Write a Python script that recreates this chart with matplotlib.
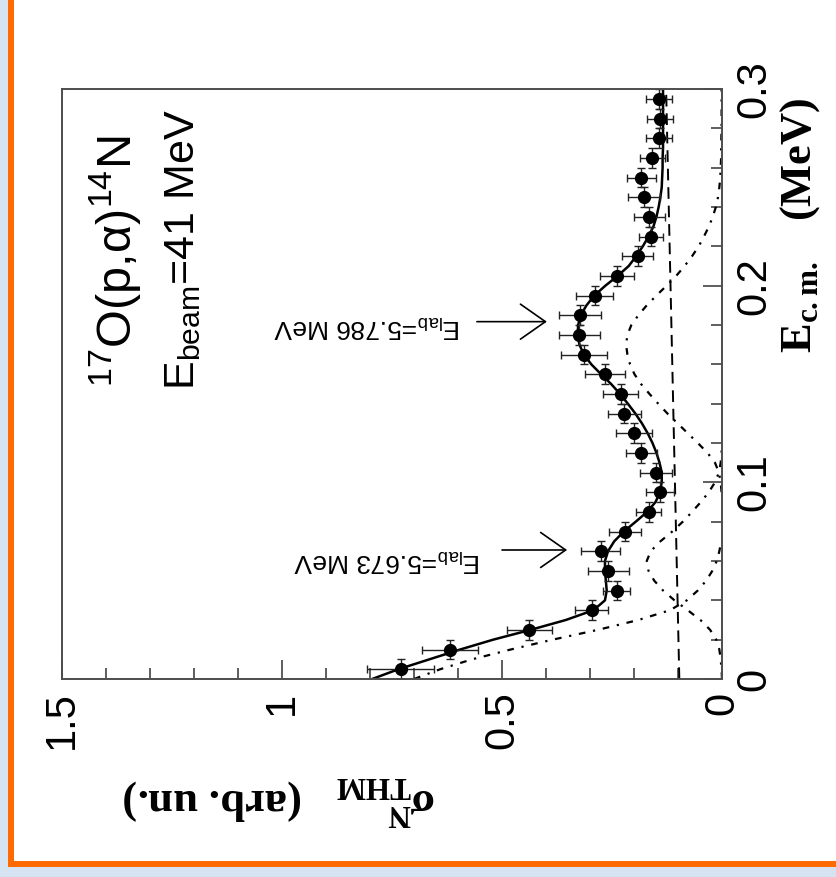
import matplotlib
matplotlib.use('Agg')
import matplotlib.pyplot as plt
from matplotlib.patches import Rectangle

plt.rcParams['font.family'] = ['Liberation Sans', 'DejaVu Sans']

# measured THM cross section, bins in E_cm (MeV)
e_cm = [0.005, 0.015, 0.025, 0.035, 0.045, 0.055, 0.065, 0.075, 0.085, 0.095,
        0.105, 0.115, 0.125, 0.135, 0.145, 0.155, 0.165, 0.175, 0.185, 0.195,
        0.205, 0.215, 0.225, 0.235, 0.245, 0.255, 0.265, 0.275, 0.285, 0.295]
e_err = [0.005] * 30
sigma = [0.730, 0.618, 0.438, 0.296, 0.239, 0.258, 0.276, 0.220, 0.167, 0.141,
         0.150, 0.183, 0.200, 0.222, 0.230, 0.266, 0.313, 0.324, 0.323, 0.289,
         0.239, 0.192, 0.161, 0.165, 0.177, 0.183, 0.158, 0.143, 0.141, 0.143]
sigma_err = [0.076, 0.064, 0.051, 0.038, 0.031, 0.047, 0.044, 0.036, 0.029, 0.031,
             0.037, 0.036, 0.042, 0.038, 0.040, 0.045, 0.052, 0.047, 0.047, 0.042,
             0.038, 0.035, 0.028, 0.035, 0.036, 0.032, 0.028, 0.029, 0.030, 0.029]

# total fit
fit_e = [0.000, 0.005, 0.010, 0.015, 0.020, 0.025, 0.030, 0.035, 0.040, 0.045,
         0.050, 0.055, 0.060, 0.065, 0.070, 0.075, 0.080, 0.085, 0.090, 0.095,
         0.100, 0.105, 0.110, 0.115, 0.120, 0.125, 0.130, 0.135, 0.140, 0.145,
         0.150, 0.155, 0.160, 0.165, 0.170, 0.175, 0.180, 0.185, 0.190, 0.195,
         0.200, 0.205, 0.210, 0.215, 0.220, 0.225, 0.230, 0.235, 0.240, 0.245,
         0.250, 0.255, 0.260, 0.265, 0.270, 0.275, 0.280, 0.285, 0.290, 0.295,
         0.300]
fit_sigma = [0.795, 0.735, 0.665, 0.595, 0.520, 0.435, 0.355, 0.292, 0.266, 0.262,
             0.264, 0.266, 0.266, 0.259, 0.245, 0.223, 0.196, 0.170, 0.151, 0.141,
             0.137, 0.137, 0.142, 0.149, 0.158, 0.169, 0.182, 0.197, 0.214, 0.232,
             0.252, 0.275, 0.297, 0.314, 0.324, 0.328, 0.327, 0.321, 0.308, 0.290,
             0.265, 0.237, 0.212, 0.195, 0.180, 0.167, 0.156, 0.149, 0.144, 0.140,
             0.137, 0.136, 0.135, 0.135, 0.134, 0.134, 0.134, 0.134, 0.134, 0.134,
             0.134]

# background
bg_e = [0.0, 0.3]
bg_sigma = [0.097, 0.127]

# single resonance contributions
peak1_e = [0.000, 0.005, 0.010, 0.015, 0.020, 0.025, 0.030, 0.035, 0.040, 0.045,
           0.050, 0.055, 0.060, 0.065, 0.070]
peak1_sigma = [0.700, 0.640, 0.568, 0.480, 0.385, 0.282, 0.190, 0.118, 0.080, 0.055,
               0.036, 0.022, 0.012, 0.006, 0.002]

peak2_e = [0.000, 0.005, 0.010, 0.015, 0.020, 0.025, 0.030, 0.035, 0.040, 0.045,
           0.050, 0.055, 0.060, 0.065, 0.070, 0.075, 0.080, 0.085, 0.090, 0.095,
           0.100, 0.105, 0.110, 0.115, 0.120]
peak2_sigma = [0.000, 0.001, 0.003, 0.006, 0.013, 0.027, 0.049, 0.078, 0.108, 0.134,
               0.154, 0.167, 0.171, 0.162, 0.140, 0.113, 0.089, 0.068, 0.048, 0.030,
               0.016, 0.007, 0.003, 0.001, 0.000]

peak3_e = [0.095, 0.100, 0.105, 0.110, 0.115, 0.120, 0.125, 0.130, 0.135, 0.140,
           0.145, 0.150, 0.155, 0.160, 0.165, 0.170, 0.175, 0.180, 0.185, 0.190,
           0.195, 0.200, 0.205, 0.210, 0.215, 0.220, 0.225, 0.230, 0.235, 0.240,
           0.245, 0.250, 0.255, 0.260, 0.265, 0.270, 0.280, 0.290, 0.300]
peak3_sigma = [0.001, 0.003, 0.007, 0.016, 0.033, 0.055, 0.078, 0.101, 0.124, 0.145,
               0.165, 0.184, 0.199, 0.209, 0.215, 0.218, 0.215, 0.206, 0.190, 0.171,
               0.149, 0.126, 0.104, 0.085, 0.068, 0.053, 0.041, 0.030, 0.021, 0.014,
               0.009, 0.006, 0.004, 0.003, 0.002, 0.002, 0.001, 0.001, 0.001]

sigma_ticks = [0, 0.5, 1, 1.5]
sigma_tick_labels = ['0', '0.5', '1', '1.5']
e_ticks = [0, 0.1, 0.2, 0.3]
e_tick_labels = ['0', '0.1', '0.2', '0.3']

W, H = 836, 877
fig = plt.figure(figsize=(W / 100, H / 100), dpi=100)
fig.patch.set_facecolor('#d5e3f2')
fig.add_artist(Rectangle((10.5 / W, 13 / H), 1.5, 1.5, transform=fig.transFigure,
                         facecolor='white', edgecolor='#ff6a00', linewidth=4.3, zorder=0))

# the plot is drawn turned: sigma runs right-to-left along the bottom, E_cm upward
ax = fig.add_axes([62 / W, 1 - 679 / H, 660 / W, 590 / H])
ax.set_facecolor('white')
ax.set_xlim(1.5, 0)
ax.set_ylim(0, 0.3)
for sp in ax.spines.values():
    sp.set_color('#4d4d4d')
    sp.set_linewidth(1.4)

ax.set_xticks(sigma_ticks, labels=sigma_tick_labels)
ax.set_xticks([0.1, 0.2, 0.3, 0.4, 0.6, 0.7, 0.8, 0.9, 1.1, 1.2, 1.3, 1.4], minor=True)
ax.set_yticks(e_ticks, labels=e_tick_labels)
ax.set_yticks([0.02, 0.04, 0.06, 0.08, 0.12, 0.14, 0.16, 0.18, 0.22, 0.24, 0.26, 0.28], minor=True)
ax.tick_params(axis='x', which='both', direction='in', bottom=True, top=False,
               labelsize=30, labelrotation=90, pad=9, width=1.1, color='#333333')
ax.tick_params(axis='y', which='both', direction='in', left=False, right=True,
               labelleft=False, labelright=True, labelsize=30, labelrotation=90,
               pad=9, width=1.1, color='#333333')
ax.tick_params(which='major', length=14)
ax.tick_params(which='minor', length=8)
for lab in ax.get_yticklabels():
    lab.set_va('center')

ax.plot(bg_sigma, bg_e, color='black', lw=1.4, ls=(0, (6, 3.5)))
ax.plot(peak1_sigma, peak1_e, color='black', lw=1.6, ls=(0, (3, 3.5, 1, 3.5)))
ax.plot(peak2_sigma, peak2_e, color='black', lw=1.6, ls=(0, (3, 3.5, 1, 3.5)))
ax.plot(peak3_sigma, peak3_e, color='black', lw=1.6, ls=(0, (3, 3.5, 1, 3.5)))
ax.plot(fit_sigma, fit_e, color='black', lw=1.8)

ax.errorbar(sigma, e_cm, xerr=sigma_err, yerr=e_err, fmt='o', color='black',
            ecolor='#222222', ms=8.5, elinewidth=1.0, capsize=2.8, capthick=1.0)

ax.text(0.080, 0.495, r'$^{\mathregular{17}}$O(p,α)$^{\mathregular{14}}$N', transform=ax.transAxes,
        rotation=90, ha='center', va='bottom', fontsize=35)
ax.text(0.183, 0.49, r'E$_{\mathregular{beam}}$=41 MeV', transform=ax.transAxes,
        rotation=90, ha='center', va='bottom', fontsize=31)

arrow = dict(arrowstyle='->,head_length=1.0,head_width=0.7', lw=1.2, color='black',
             mutation_scale=18, shrinkA=0, shrinkB=0)
ax.annotate('', xy=(0.352, 0.0656), xytext=(0.50, 0.0656), arrowprops=arrow)
ax.annotate('', xy=(0.398, 0.1817), xytext=(0.557, 0.1817), arrowprops=arrow)
ax.text(0.761, 0.0605, r'E$_{\mathregular{lab}}$=5.673 MeV', rotation=180,
        ha='center', va='center', fontsize=19)
ax.text(0.807, 0.1795, r'E$_{\mathregular{lab}}$=5.786 MeV', rotation=180,
        ha='center', va='center', fontsize=19)

serif = dict(family=['Liberation Serif', 'DejaVu Serif'], weight='bold', fontsize=32)
fig.text(280 / W, 1 - 800 / H, r'σ$^{\mathregular{N}}_{\mathregular{THM}}$   (arb. un.)',
         rotation=180, ha='center', va='center', **serif)
fig.text(800 / W, 1 - 225 / H, r'E$_{\mathregular{c.m.}}$   (MeV)',
         rotation=90, ha='center', va='center', **serif)

fig.savefig('out.png', dpi=100, facecolor=fig.get_facecolor())
